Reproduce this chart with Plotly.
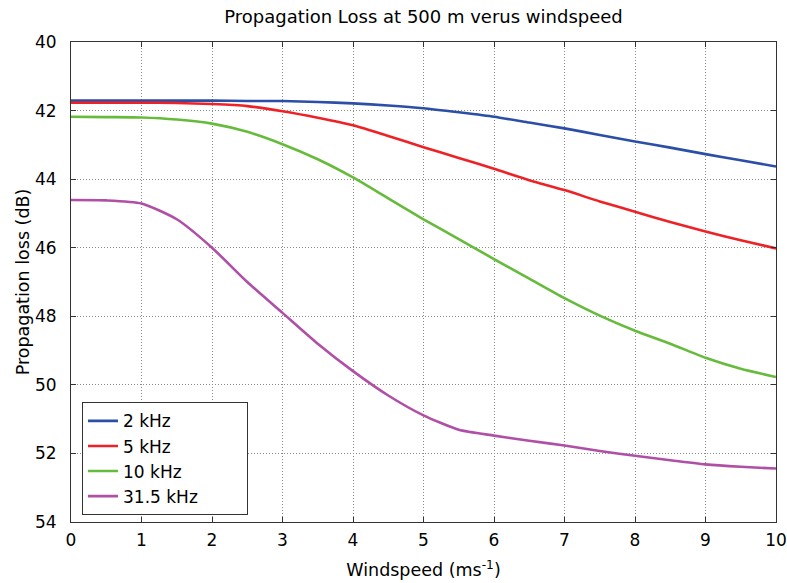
import plotly.graph_objects as go

windspeed = [0, 0.5, 1, 1.5, 2, 2.5, 3, 3.5, 4, 4.5, 5, 5.5, 6, 6.5, 7, 7.5, 8, 8.5, 9, 9.5, 10]
loss_2khz = [41.71, 41.71, 41.71, 41.71, 41.71, 41.72, 41.72, 41.75, 41.79, 41.85, 41.93, 42.05, 42.18, 42.35, 42.52, 42.71, 42.90, 43.08, 43.27, 43.45, 43.63]
loss_5khz = [41.77, 41.77, 41.77, 41.78, 41.81, 41.87, 42.02, 42.21, 42.43, 42.74, 43.07, 43.38, 43.70, 44.03, 44.32, 44.65, 44.95, 45.25, 45.53, 45.78, 46.02]
loss_10khz = [42.18, 42.19, 42.20, 42.26, 42.38, 42.62, 42.98, 43.42, 43.95, 44.56, 45.17, 45.75, 46.33, 46.90, 47.47, 47.98, 48.42, 48.80, 49.21, 49.53, 49.77]
loss_31khz = [44.61, 44.62, 44.71, 45.17, 46.00, 47.00, 47.90, 48.80, 49.60, 50.31, 50.89, 51.31, 51.48, 51.63, 51.77, 51.93, 52.07, 52.20, 52.32, 52.39, 52.44]

series_names = ["2 kHz", "5 kHz", "10 kHz", "31.5 kHz"]
series_vals = [loss_2khz, loss_5khz, loss_10khz, loss_31khz]
series_colors = ["#2b4ea6", "#ee2226", "#66bb3c", "#b04fa6"]

xticks = [0, 1, 2, 3, 4, 5, 6, 7, 8, 9, 10]
yticks = [40, 42, 44, 46, 48, 50, 52, 54]

FONT = "DejaVu Sans, Liberation Sans, Arial, sans-serif"
PAD = "\u00a0" * 8  # widen the legend box like the reference

fig = go.Figure()
for name, vals, col in zip(series_names, series_vals, series_colors):
    fig.add_trace(go.Scatter(
        x=windspeed, y=vals, name=name + PAD, mode="lines",
        line=dict(color=col, width=2.6, shape="spline", smoothing=0.6),
    ))

axis_common = dict(
    showline=True, linecolor="#333333", linewidth=1, mirror="ticks",
    ticks="inside", ticklen=5, tickcolor="#333333",
    showgrid=True, gridcolor="#8c8c8c", griddash="1px,2px", gridwidth=1,
    zeroline=False, automargin=False,
    tickfont=dict(size=17, color="#000000", family=FONT),
)

fig.update_layout(
    width=787, height=583,
    paper_bgcolor="white", plot_bgcolor="white",
    margin=dict(l=71, r=11, t=42, b=61),
    font=dict(family=FONT, color="#000000"),
    title=dict(text="Propagation Loss at 500 m verus windspeed",
               x=0.5, xref="paper", xanchor="center", y=0.971, yanchor="middle",
               font=dict(size=18, family=FONT)),
    xaxis=dict(range=[0, 10], tickvals=xticks, ticklabelstandoff=3,
               title=dict(text="Windspeed (ms<sup>-1</sup>)", font=dict(size=17.5, family=FONT), standoff=14),
               **axis_common),
    yaxis=dict(range=[54, 40], tickvals=yticks, ticklabelstandoff=10,
               title=dict(text="Propagation loss (dB)", font=dict(size=17.5, family=FONT), standoff=0),
               **axis_common),
    legend=dict(x=0.0156, y=0.014, xanchor="left", yanchor="bottom",
                bgcolor="white", bordercolor="#333333", borderwidth=1,
                font=dict(size=17, family=FONT), tracegroupgap=0),
    showlegend=True,
)

fig.write_html(
    "out.html",
    config={"displayModeBar": False},
    post_script="document.body.style.margin='0';document.body.style.overflow='hidden';",
)
